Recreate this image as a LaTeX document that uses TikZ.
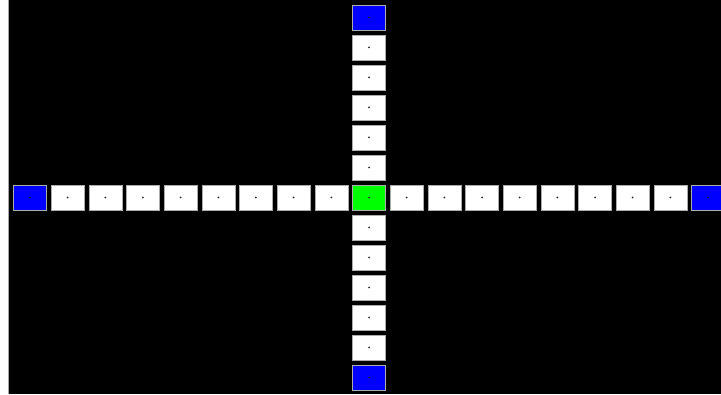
\documentclass[tikz,border=0pt]{standalone}
\usetikzlibrary{positioning}
\tikzset{
	cell/.style={rectangle, draw=gray!65, fill=white, line width=0.6pt,
		minimum width=33pt, minimum height=25pt, inner sep=0pt,
		path picture={\fill[black!85] (path picture bounding box.center) circle (1pt);}},
	endcell/.style={cell, fill=blue},
	midcell/.style={cell, fill=green}
}
\begin{document}
\begin{tikzpicture}[x=1pt, y=-1pt]
	
	%% ---- Canvas ----
	\useasboundingbox (0,0) rectangle (721,395);
	\fill[white] (0,0) rectangle (721,395);
	\fill[black] (8,0) rectangle (721,394);
	\draw[gray!70, line width=0.8pt] (8,0) -- (8,394);
	
	%% ---- Centre cell ----
	\node[midcell] (centre) at (369,197.5) {};
	
	%% ---- Horizontal arm ----
	\foreach \i in {1,...,8}{
		\node[cell] (hl\i) at (369-37.67*\i,197.5) {};
		\node[cell] (hr\i) at (369+37.67*\i,197.5) {};
	}
	\node[endcell] (hl9) at (369-37.67*9,197.5) {};
	\node[endcell] (hr9) at (369+37.67*9,197.5) {};
	
	%% ---- Vertical arm ----
	\foreach \j in {1,...,5}{
		\node[cell] (vt\j) at (369,197.5-30*\j) {};
		\node[cell] (vb\j) at (369,197.5+30*\j) {};
	}
	\node[endcell] (vt6) at (369,17.5) {};
	\node[endcell] (vb6) at (369,377.5) {};
	
\end{tikzpicture}
\end{document}
